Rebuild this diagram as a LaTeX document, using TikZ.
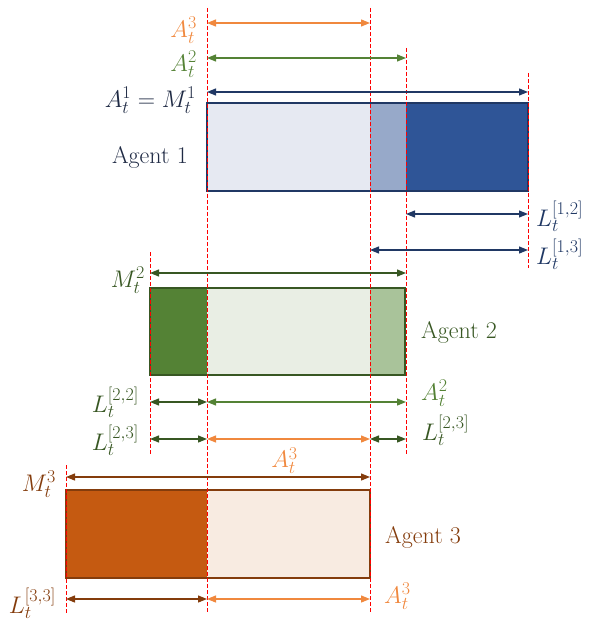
\RequirePackage{fix-cm}
\documentclass[tikz,border=0pt]{standalone}
\usepackage{fontspec}
\usetikzlibrary{arrows.meta}
\DeclareMathSizes{24}{24}{18}{14}
\definecolor{navy}{HTML}{203864}
\definecolor{navytxt}{HTML}{1F2A44}
\definecolor{navyfill}{HTML}{2F5597}
\definecolor{navymid}{HTML}{97A9C9}
\definecolor{navylt}{HTML}{E6E9F2}
\definecolor{dkgreen}{HTML}{385723}
\definecolor{green}{HTML}{548235}
\definecolor{greenmid}{HTML}{A9C39A}
\definecolor{greenlt}{HTML}{E9EEE4}
\definecolor{brown}{HTML}{843C0C}
\definecolor{rust}{HTML}{C55A11}
\definecolor{rustlt}{HTML}{F8EBE1}
\definecolor{orange}{HTML}{F0883E}
\tikzset{
  lbl/.style={font=\fontsize{24}{28}\selectfont, inner sep=1pt},
  guide/.style={red, line width=0.8pt, dash pattern=on 4pt off 2pt},
  span/.style={{Triangle[length=9pt,width=7pt]}-{Triangle[length=9pt,width=7pt]}, line width=1.2pt},
  frame/.style={line width=1.6pt},
}
\begin{document}
\begin{tikzpicture}[x=1pt,y=-1pt]
\useasboundingbox (0,0) rectangle (595,628);
% columns
\coordinate (c0) at (66,0);
\coordinate (c1) at (150,0);
\coordinate (c2) at (207,0);
\coordinate (c3) at (370,0);
\coordinate (c4) at (406,0);
\coordinate (c5) at (528,0);
% rows of the arrows
\coordinate (r1) at (0,23);
\coordinate (r2) at (0,58);
\coordinate (r3) at (0,92);
\coordinate (r4) at (0,214);
\coordinate (r5) at (0,250);
\coordinate (r6) at (0,273);
\coordinate (r7) at (0,402);
\coordinate (r8) at (0,439);
\coordinate (r9) at (0,477);
\coordinate (r10) at (0,599);

% agent 1
\fill[navylt] (207,103) rectangle (370,191);
\fill[navymid] (370,103) rectangle (406,191);
\fill[navyfill] (406,103) rectangle (528,191);
\draw[frame,navy] (207,103) rectangle (528,191);
% agent 2
\fill[green] (150,288) rectangle (207,375);
\fill[greenlt] (207,288) rectangle (370,375);
\fill[greenmid] (370,288) rectangle (405,375);
\draw[frame,dkgreen] (150,288) rectangle (405,375);
% agent 3
\fill[rust] (66,490) rectangle (207,578);
\fill[rustlt] (207,490) rectangle (370,578);
\draw[frame,brown] (66,490) rectangle (370,578);

% red guides
\draw[guide] (c2 |- 0,8) -- (c2 |- 0,612);
\draw[guide] (c3 |- 0,8) -- (c3 |- 0,612);
\draw[guide] (c4 |- 0,48) -- (c4 |- 0,455);
\draw[guide] (c5 |- 0,73) -- (c5 |- 0,268);
\draw[guide] (c1 |- 0,252) -- (c1 |- 0,455);
\draw[guide] (c0 |- 0,465) -- (c0 |- 0,613);

% arrows
\draw[span,orange] (c2 |- r1) -- (c3 |- r1);
\draw[span,green] (c2 |- r2) -- (c4 |- r2);
\draw[span,navy] (c2 |- r3) -- (c5 |- r3);
\draw[span,navy] (c4 |- r4) -- (c5 |- r4);
\draw[span,navy] (c3 |- r5) -- (c5 |- r5);
\draw[span,dkgreen] (c1 |- r6) -- (c4 |- r6);
\draw[span,dkgreen] (c1 |- r7) -- (c2 |- r7);
\draw[span,green] (c2 |- r7) -- (c4 |- r7);
\draw[span,dkgreen] (c1 |- r8) -- (c2 |- r8);
\draw[span,orange] (c2 |- r8) -- node[lbl,below=7pt,xshift=-4pt]{$A_t^3$} (c3 |- r8);
\draw[span,dkgreen] (c3 |- r8) -- (c4 |- r8);
\draw[span,brown] (c0 |- r9) -- (c3 |- r9);
\draw[span,brown] (c0 |- r10) -- (c2 |- r10);
\draw[span,orange] (c2 |- r10) -- (c3 |- r10);

% labels
\node[lbl,orange,anchor=east] (la3) at (198,30) {$A_t^3$};
\node[lbl,green,anchor=east] (la2) at (198,64) {$A_t^2$};
\node[lbl,navytxt,anchor=east] (la1) at (197,100) {$A_t^1 = M_t^1$};
\node[lbl,navytxt,anchor=east] (ag1) at (189,157) {Agent 1};
\node[lbl,navy,anchor=west] (l12) at (535,216) {$L_t^{[1,2]}$};
\node[lbl,navy,anchor=west] (l13) at (535,254) {$L_t^{[1,3]}$};
\node[lbl,dkgreen,anchor=east] (m2) at (146,280) {$M_t^2$};
\node[lbl,dkgreen,anchor=west] (ag2) at (420,332) {Agent 2};
\node[lbl,dkgreen,anchor=east] (l22) at (140,402) {$L_t^{[2,2]}$};
\node[lbl,green,anchor=west] (ra2) at (420,393) {$A_t^2$};
\node[lbl,dkgreen,anchor=east] (l23a) at (140,440) {$L_t^{[2,3]}$};
\node[lbl,dkgreen,anchor=west] (l23b) at (421,430) {$L_t^{[2,3]}$};
\node[lbl,brown,anchor=east] (m3) at (57,484) {$M_t^3$};
\node[lbl,brown,anchor=west] (ag3) at (384,537) {Agent 3};
\node[lbl,brown,anchor=east] (l33) at (57,603) {$L_t^{[3,3]}$};
\node[lbl,orange,anchor=west] (ra3) at (383,596) {$A_t^3$};
\end{tikzpicture}
\end{document}
